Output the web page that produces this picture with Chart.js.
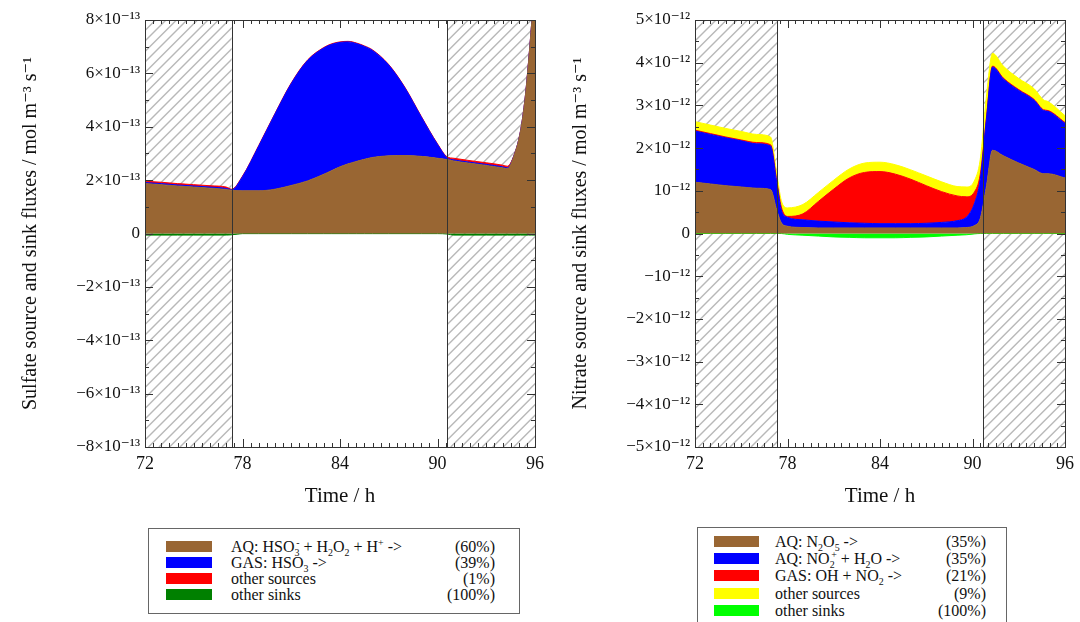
<!DOCTYPE html>
<html>
<head>
<meta charset="utf-8">
<script src="https://cdn.jsdelivr.net/npm/chart.js@4.4.1/dist/chart.umd.min.js"></script>
<style>
  body { margin: 0; width: 1080px; height: 622px; overflow: hidden; background: #fff; font-family: 'Liberation Serif', 'DejaVu Serif', serif; }
  .box { position: absolute; }
  .legend { position: absolute; border: 1px solid #666; background: #fff; font-size: 16px; color: #111; }
  .row { position: absolute; left: 0; right: 0; height: 17px; line-height: 17px; }
  .sw { position: absolute; top: 3px; height: 11px; }
  .lbl { position: absolute; white-space: nowrap; }
  .pct { position: absolute; text-align: right; }
  sub, sup { font-size: 0.62em; line-height: 0; }
  sup.back { margin-left: -0.34em; }
</style>
</head>
<body>

<div class="box" style="left:0;top:0;width:550px;height:515px"><canvas id="chart-sulfate"></canvas></div>
<div class="box" style="left:550px;top:0;width:530px;height:515px"><canvas id="chart-nitrate"></canvas></div>
<div class="legend" id="legend-sulfate" style="left:148px;top:528px;width:370px;height:84px"></div>
<div class="legend" id="legend-nitrate" style="left:697px;top:527px;width:308px;height:110px"></div>

<script>
// ---- sulfate (units of 1e-13 mol m-3 s-1) ----
var sulfateHours = [72, 73, 74, 75, 76, 77, 77.33, 78, 79, 80, 81, 82, 83, 83.5, 84, 84.5, 85, 85.5, 86, 87, 88, 89, 90, 90.6, 91, 92, 93, 94, 94.3, 94.7, 95.1, 95.4, 95.6, 95.8, 96];
var sulfateAq    = [1.87, 1.83, 1.78, 1.74, 1.70, 1.65, 1.62, 1.60, 1.60, 1.66, 1.80, 1.97, 2.22, 2.36, 2.50, 2.61, 2.70, 2.78, 2.85, 2.91, 2.92, 2.89, 2.82, 2.77, 2.72, 2.63, 2.55, 2.46, 2.43, 2.90, 3.80, 5.10, 6.40, 7.90, 9.50];
var sulfateGas   = [0.04, 0.04, 0.04, 0.04, 0.04, 0.04, 0.02, 0.53, 1.68, 2.82, 3.82, 4.51, 4.73, 4.73, 4.66, 4.57, 4.42, 4.23, 4.01, 3.40, 2.53, 1.48, 0.52, 0.06, 0.04, 0.04, 0.04, 0.04, 0.03, 0.01, 0.01, 0.01, 0.01, 0.01, 0.01];
var sulfateOther = [0.05, 0.05, 0.05, 0.05, 0.05, 0.05, 0.02, 0.02, 0.02, 0.02, 0.02, 0.02, 0.02, 0.02, 0.02, 0.02, 0.02, 0.02, 0.02, 0.02, 0.02, 0.02, 0.02, 0.04, 0.06, 0.06, 0.06, 0.06, 0.06, 0.01, 0.01, 0.01, 0.01, 0.01, 0.01];
var sulfateSinks = [-0.06, -0.06, -0.06, -0.06, -0.06, -0.06, -0.05, -0.005, -0.005, -0.005, -0.005, -0.005, -0.005, -0.005, -0.005, -0.005, -0.005, -0.005, -0.005, -0.005, -0.005, -0.005, -0.005, -0.02, -0.06, -0.06, -0.06, -0.06, -0.06, -0.06, -0.06, -0.06, -0.06, -0.06, -0.06];
var sulfateNights = [[72, 77.33], [90.6, 96]];
var sulfateLabels = ['AQ: HSO<sub>3</sub><sup class="back">-</sup> + H<sub>2</sub>O<sub>2</sub> + H<sup>+</sup> -&gt;', 'GAS: HSO<sub>3</sub> -&gt;', 'other sources', 'other sinks'];
var sulfatePct = ['(60%)', '(39%)', '(1%)', '(100%)'];
var sulfateColors = ['#996633', '#0000ff', '#ff0000', '#008000'];

// ---- nitrate (units of 1e-12 mol m-3 s-1) ----
var nitrateHours = [72, 73, 74, 75, 76, 76.9, 77.3, 77.6, 78, 79, 80, 81, 82, 83, 84, 85, 86, 87, 88, 89, 89.6, 90.1, 90.5, 90.9, 91.3, 92, 93, 94, 94.6, 94.9, 96];
var nitrateN2O5  = [1.20, 1.16, 1.12, 1.09, 1.06, 1.03, 0.55, 0.25, 0.17, 0.14, 0.13, 0.13, 0.13, 0.13, 0.13, 0.13, 0.13, 0.13, 0.13, 0.13, 0.14, 0.18, 0.35, 1.10, 1.95, 1.82, 1.65, 1.50, 1.40, 1.40, 1.30];
var nitrateNO2p  = [1.20, 1.16, 1.12, 1.08, 1.04, 1.02, 0.65, 0.30, 0.21, 0.18, 0.16, 0.14, 0.12, 0.11, 0.10, 0.10, 0.10, 0.11, 0.13, 0.17, 0.24, 0.50, 0.91, 1.57, 1.95, 1.80, 1.70, 1.62, 1.48, 1.46, 1.28];
var nitrateOH    = [0.02, 0.02, 0.02, 0.02, 0.03, 0.03, 0.05, 0.07, 0.02, 0.14, 0.46, 0.77, 1.05, 1.19, 1.22, 1.16, 1.04, 0.88, 0.72, 0.58, 0.48, 0.28, 0.12, 0.03, 0.02, 0.02, 0.02, 0.02, 0.02, 0.02, 0.02];
var nitrateOther = [0.20, 0.20, 0.20, 0.20, 0.19, 0.18, 0.16, 0.15, 0.20, 0.22, 0.21, 0.21, 0.21, 0.22, 0.22, 0.22, 0.22, 0.23, 0.23, 0.22, 0.23, 0.26, 0.35, 0.50, 0.30, 0.28, 0.26, 0.25, 0.23, 0.21, 0.16];
var nitrateSinks = [0, 0, 0, 0, 0, 0, 0, 0, -0.02, -0.04, -0.06, -0.08, -0.09, -0.10, -0.10, -0.10, -0.09, -0.08, -0.06, -0.04, -0.03, -0.01, 0, 0, 0, 0, 0, 0, 0, 0, 0];
var nitrateNights = [[72, 77.35], [90.7, 96]];
var nitrateLabels = ['AQ: N<sub>2</sub>O<sub>5</sub> -&gt;', 'AQ: NO<sub>2</sub><sup class="back">+</sup> + H<sub>2</sub>O -&gt;', 'GAS: OH + NO<sub>2</sub> -&gt;', 'other sources', 'other sinks'];
var nitratePct = ['(35%)', '(35%)', '(21%)', '(9%)', '(100%)'];
var nitrateColors = ['#996633', '#0000ff', '#ff0000', '#ffff00', '#00ff00'];

var FONT = "'Liberation Serif', 'DejaVu Serif', serif";

function $(id) { return document.getElementById(id); }

function series(hours, values) {
    return hours.map(function (h, i) { return { x: h, y: values[i] }; });
}

function layer(label, hours, values, color, fill, stack) {
    return {
        label: label,
        data: series(hours, values),
        backgroundColor: color,
        borderColor: color,
        borderWidth: 1,
        pointRadius: 0,
        fill: fill,
        stack: stack,
        cubicInterpolationMode: 'monotone'
    };
}

function stripTags(s) {
    return s.replace(/<[^>]+>/g, '').replace(/&gt;/g, '>');
}

// hatched night periods, frame and inward ticks
var framePlugin = {
    id: 'frame',
    beforeDatasetsDraw: function (chart, args, opts) {
        var ctx = chart.ctx, a = chart.chartArea, xs = chart.scales.x;
        var h = a.bottom - a.top;
        opts.nights.forEach(function (p) {
            var x0 = xs.getPixelForValue(p[0]), x1 = xs.getPixelForValue(p[1]);
            ctx.save();
            ctx.beginPath();
            ctx.rect(x0, a.top, x1 - x0, h);
            ctx.clip();
            ctx.strokeStyle = '#b8b8b8';
            ctx.lineWidth = 1.4;
            for (var s = x0 - h; s < x1 + 10; s += 10.5) {
                ctx.beginPath();
                ctx.moveTo(s, a.bottom);
                ctx.lineTo(s + h, a.top);
                ctx.stroke();
            }
            ctx.restore();
        });
    },
    afterDatasetsDraw: function (chart, args, opts) {
        var ctx = chart.ctx, a = chart.chartArea, xs = chart.scales.x, ys = chart.scales.y;
        ctx.save();
        ctx.strokeStyle = '#333';
        ctx.lineWidth = 1;
        opts.nights.forEach(function (p) {
            [p[0], p[1]].forEach(function (v) {
                if (v === xs.min || v === xs.max) return;
                var px = Math.round(xs.getPixelForValue(v)) + 0.5;
                ctx.beginPath(); ctx.moveTo(px, a.top); ctx.lineTo(px, a.bottom); ctx.stroke();
            });
        });
        ctx.strokeRect(Math.round(a.left) + 0.5, Math.round(a.top) + 0.5, Math.round(a.right - a.left), Math.round(a.bottom - a.top));
        ctx.beginPath();
        for (var v = xs.min; v <= xs.max + 1e-9; v += 0.5) {
            var px = Math.round(xs.getPixelForValue(v)) + 0.5;
            var len = (Math.abs(v % 6) < 1e-9) ? 8 : 4;
            ctx.moveTo(px, a.bottom); ctx.lineTo(px, a.bottom - len);
            ctx.moveTo(px, a.top); ctx.lineTo(px, a.top + len);
        }
        for (var w = ys.min; w <= ys.max + 1e-9; w += opts.yMinor) {
            var py = Math.round(ys.getPixelForValue(w)) + 0.5;
            var r = w / opts.yMajor;
            var l2 = (Math.abs(r - Math.round(r)) < 1e-9) ? 8 : 4;
            ctx.moveTo(a.left, py); ctx.lineTo(a.left + l2, py);
            ctx.moveTo(a.right, py); ctx.lineTo(a.right - l2, py);
        }
        ctx.stroke();
        ctx.restore();
    }
};

function sciLabel(v, exp, oneBare) {
    if (v === 0) return '0';
    var sign = v < 0 ? '\u2212' : '';
    var m = Math.abs(v);
    var sup = '\u207B' + exp;
    if (m === 1 && oneBare) return sign + '10' + sup;
    return sign + m + '\u00D710' + sup;
}

function baseOptions(yMin, yMax, yStep, exp, oneBare, title, nights, yMinor, padRight) {
    return {
        animation: false,
        maintainAspectRatio: false,
        responsive: true,
        layout: { padding: { top: 20, right: padRight, bottom: 0, left: 0 } },
        plugins: {
            legend: { display: false },
            tooltip: { enabled: false },
            frame: { nights: nights, yMajor: yStep, yMinor: yMinor }
        },
        scales: {
            x: {
                type: 'linear', min: 72, max: 96,
                grid: { display: false, drawTicks: false }, border: { display: false },
                ticks: { stepSize: 6, padding: 6, color: '#111', font: { family: FONT, size: 18 } },
                title: { display: true, text: 'Time / h', color: '#111', font: { family: FONT, size: 21 }, padding: { top: 0, bottom: 6 } },
                afterFit: function (scale) { scale.height = 68; }
            },
            y: {
                stacked: true, min: yMin, max: yMax,
                grid: { display: false, drawTicks: false }, border: { display: false },
                ticks: {
                    stepSize: yStep, padding: 5, color: '#111', font: { family: FONT, size: 17 },
                    callback: function (v) { return sciLabel(v, exp, oneBare); }
                },
                title: { display: true, text: title, color: '#111', font: { family: FONT, size: 20 }, padding: { top: 19, bottom: 0 } },
                afterFit: function (scale) { scale.width = 145; }
            }
        }
    };
}

function drawSulfateChart() {
    new Chart($('chart-sulfate'), {
        type: 'line',
        data: {
            datasets: [
                layer(stripTags(sulfateLabels[0]), sulfateHours, sulfateAq, sulfateColors[0], 'origin', 'src'),
                layer(stripTags(sulfateLabels[1]), sulfateHours, sulfateGas, sulfateColors[1], '-1', 'src'),
                layer(stripTags(sulfateLabels[2]), sulfateHours, sulfateOther, sulfateColors[2], '-1', 'src'),
                layer(stripTags(sulfateLabels[3]), sulfateHours, sulfateSinks, sulfateColors[3], 'origin', 'sink')
            ]
        },
        options: baseOptions(-8, 8, 2, '\u00B9\u00B3', false, 'Sulfate source and sink fluxes / mol m\u207B\u00B3 s\u207B\u00B9', sulfateNights, 1, 10),
        plugins: [framePlugin]
    });
}

function drawNitrateChart() {
    new Chart($('chart-nitrate'), {
        type: 'line',
        data: {
            datasets: [
                layer(stripTags(nitrateLabels[0]), nitrateHours, nitrateN2O5, nitrateColors[0], 'origin', 'src'),
                layer(stripTags(nitrateLabels[1]), nitrateHours, nitrateNO2p, nitrateColors[1], '-1', 'src'),
                layer(stripTags(nitrateLabels[2]), nitrateHours, nitrateOH, nitrateColors[2], '-1', 'src'),
                layer(stripTags(nitrateLabels[3]), nitrateHours, nitrateOther, nitrateColors[3], '-1', 'src'),
                layer(stripTags(nitrateLabels[4]), nitrateHours, nitrateSinks, nitrateColors[4], 'origin', 'sink')
            ]
        },
        options: baseOptions(-5, 5, 1, '\u00B9\u00B2', true, 'Nitrate source and sink fluxes / mol m\u207B\u00B3 s\u207B\u00B9', nitrateNights, 0.5, 12),
        plugins: [framePlugin]
    });
}

function drawLegend(el, labels, pct, colors, o) {
    var html = '';
    labels.forEach(function (lab, i) {
        var top = o.top + i * o.step;
        html += '<div class="row" style="top:' + top + 'px">' +
            '<div class="sw" style="left:' + o.sw + 'px;width:' + o.swW + 'px;background:' + colors[i] + '"></div>' +
            '<div class="lbl" style="left:' + o.lbl + 'px">' + lab + '</div>' +
            '<div class="pct" style="right:' + o.pctRight + 'px">' + pct[i] + '</div>' +
            '</div>';
    });
    el.innerHTML = html;
}

drawSulfateChart();
drawNitrateChart();
drawLegend($('legend-sulfate'), sulfateLabels, sulfatePct, sulfateColors, {top: 9, step: 16, sw: 17, swW: 46, lbl: 82, pctRight: 24});
drawLegend($('legend-nitrate'), nitrateLabels, nitratePct, nitrateColors, {top: 5, step: 17.2, sw: 16, swW: 45, lbl: 77, pctRight: 20});
</script>
</body>
</html>
